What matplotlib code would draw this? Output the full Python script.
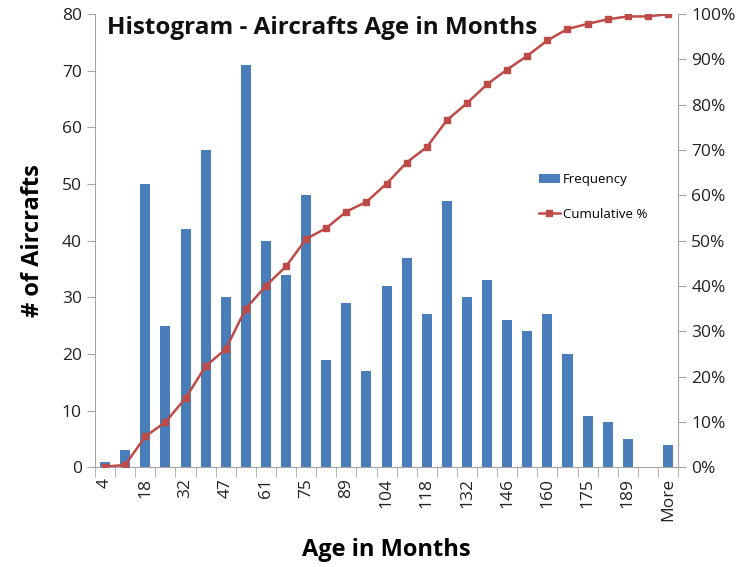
import numpy as np
import matplotlib
matplotlib.use("Agg")
import matplotlib.pyplot as plt
from matplotlib.ticker import PercentFormatter

plt.rcParams['font.family'] = ['Open Sans', 'DejaVu Sans']

# histogram bins (age in months) and counts
bins = ['4', '11', '18', '25', '32', '40', '47', '54', '61', '68', '75', '82',
        '89', '97', '104', '111', '118', '125', '132', '139', '146', '153',
        '160', '167', '175', '182', '189', '196', 'More']
freq = [1, 3, 50, 25, 42, 56, 30, 71, 40, 34, 48, 19, 29, 17, 32, 37, 27, 47,
        30, 33, 26, 24, 27, 20, 9, 8, 5, 0, 4]

cum_pct = np.cumsum(freq) / np.sum(freq) * 100

blue = '#4A7EBB'
red = '#BE4B48'
grey = '#A6A6A6'

fig = plt.figure(figsize=(7.37, 5.67), dpi=100)
ax = fig.add_axes([0.129, 0.176, 0.791, 0.799])
x = np.arange(len(bins))

bars = ax.bar(x, freq, width=0.5, color=blue, label='Frequency', zorder=2)
ax.set_xlim(-0.5, len(bins) - 0.5)
ax.set_ylim(0, 80)
ax.set_yticks(range(0, 81, 10))

ax2 = ax.twinx()
line, = ax2.plot(x, cum_pct, color=red, lw=1.8, marker='s', markersize=5,
                 label='Cumulative %', zorder=3)
ax2.set_ylim(0, 100)
ax2.set_yticks(range(0, 101, 10))
ax2.yaxis.set_major_formatter(PercentFormatter(decimals=0))

# category labels on every other bin, ticks on bin edges
ax.set_xticks(x[::2])
ax.set_xticklabels(bins[::2], rotation=90)
ax.set_xticks(np.arange(-0.5, len(bins)), minor=True)
ax.tick_params(axis='x', which='major', length=0, pad=8)
ax.tick_params(axis='x', which='minor', length=7, color=grey, direction='out')

for a in (ax, ax2):
    for s in a.spines.values():
        s.set_visible(False)
    a.tick_params(axis='y', length=6, color=grey, labelsize=12.5, colors='#222222')
ax.tick_params(axis='x', labelsize=12.5, colors='#222222')
ax.tick_params(axis='x', which='minor', color=grey)
ax.tick_params(axis='y', color=grey)
ax2.tick_params(axis='y', color=grey)
ax.spines['left'].set_visible(True)
ax.spines['bottom'].set_visible(True)
ax2.spines['right'].set_visible(True)
for s in (ax.spines['left'], ax.spines['bottom'], ax2.spines['right']):
    s.set_color(grey)

ax.text(0.02, 0.995, 'Histogram - Aircrafts Age in Months', transform=ax.transAxes,
        fontsize=17.5, fontweight='bold', ha='left', va='top', color='#111111')
ax.set_ylabel('# of Aircrafts', fontsize=17, fontweight='bold', labelpad=12)
ax.set_xlabel('Age in Months', fontsize=17, fontweight='bold', labelpad=12)

fig.legend([bars, line], ['Frequency', 'Cumulative %'], loc='upper left',
           bbox_to_anchor=(0.715, 0.715), frameon=False, fontsize=9.5,
           labelspacing=1.6, handlelength=1.6, handleheight=0.7,
           handletextpad=0.2)

fig.savefig('out.png', dpi=100)
